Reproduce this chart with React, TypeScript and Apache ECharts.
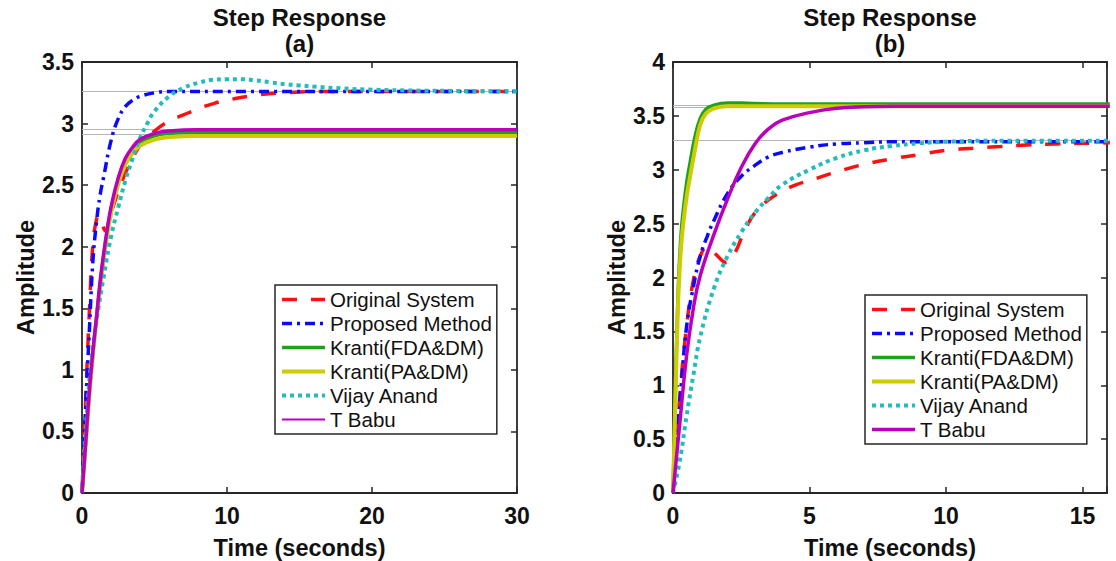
import React, { useEffect, useRef } from "react";
import * as echarts from "echarts";

// ---------- Plot (a) ----------
const tA_orig = [0, 0.25, 0.5, 0.75, 1, 1.15, 1.4, 1.6, 2, 2.5, 3, 3.5, 4, 5, 6, 7, 8, 9, 10, 12, 14, 17, 20, 30];
const yA_orig = [0, 0.75, 1.45, 2.02, 2.22, 2.25, 2.18, 2.13, 2.27, 2.45, 2.6, 2.72, 2.82, 2.94, 3.02, 3.07, 3.12, 3.16, 3.19, 3.23, 3.25, 3.26, 3.26, 3.26];
const tA_prop = [0, 0.25, 0.5, 0.75, 1, 1.25, 1.5, 2, 2.5, 3, 3.5, 4, 5, 6, 8, 30];
const yA_prop = [0, 0.7, 1.3, 1.88, 2.2, 2.42, 2.57, 2.86, 3.04, 3.14, 3.19, 3.22, 3.25, 3.26, 3.26, 3.26];
const tA_fda = [0, 0.25, 0.5, 0.75, 1, 1.5, 2, 2.5, 3, 3.5, 4, 5, 6, 8, 30];
const yA_fda = [0, 0.4, 0.8, 1.13, 1.42, 1.93, 2.3, 2.54, 2.7, 2.79, 2.85, 2.9, 2.92, 2.93, 2.93];
const tA_pa = [0, 0.25, 0.5, 0.75, 1, 1.5, 2, 2.5, 3, 3.5, 4, 5, 6, 8, 30];
const yA_pa = [0, 0.39, 0.79, 1.12, 1.4, 1.9, 2.27, 2.51, 2.67, 2.76, 2.82, 2.87, 2.89, 2.9, 2.9];
const tA_vij = [0, 0.25, 0.5, 0.75, 1, 1.5, 2, 2.5, 3, 3.5, 4, 4.5, 5, 6, 7, 8, 9, 10, 11, 12, 13, 14, 15, 16, 18, 20, 23, 26, 30];
const yA_vij = [0, 0.5, 0.9, 1.17, 1.4, 1.76, 2.08, 2.32, 2.54, 2.72, 2.88, 3.0, 3.1, 3.22, 3.29, 3.33, 3.355, 3.36, 3.36, 3.35, 3.335, 3.32, 3.31, 3.3, 3.285, 3.275, 3.268, 3.265, 3.262];
const tA_babu = [0, 0.25, 0.5, 0.75, 1, 1.25, 1.5, 1.75, 2, 2.5, 3, 3.5, 4, 5, 6, 8, 30];
const yA_babu = [0, 0.4, 0.82, 1.15, 1.43, 1.72, 1.95, 2.15, 2.32, 2.56, 2.72, 2.81, 2.87, 2.92, 2.94, 2.95, 2.95];
const steadyA = [3.26, 2.95, 2.91];

// ---------- Plot (b) ----------
const tB_orig = [0, 0.25, 0.5, 0.75, 1, 1.25, 1.55, 1.95, 2.25, 2.6, 3, 3.5, 4, 4.5, 5, 6, 7, 8, 9, 10, 11, 12, 13, 14, 15, 16];
const yB_orig = [0, 0.9, 1.55, 1.98, 2.2, 2.28, 2.22, 2.14, 2.22, 2.42, 2.6, 2.72, 2.8, 2.86, 2.9, 2.98, 3.05, 3.1, 3.14, 3.18, 3.2, 3.215, 3.23, 3.24, 3.245, 3.25];
const tB_prop = [0, 0.1, 0.2, 0.3, 0.5, 0.75, 1, 1.25, 1.5, 2, 2.5, 3, 3.5, 4, 5, 6, 7, 8, 16];
const yB_prop = [0, 0.35, 0.7, 1.0, 1.55, 1.92, 2.2, 2.38, 2.53, 2.78, 2.94, 3.04, 3.12, 3.16, 3.21, 3.24, 3.25, 3.26, 3.26];
const tB_fda = [0, 0.05, 0.1, 0.15, 0.2, 0.3, 0.4, 0.5, 0.6, 0.8, 1, 1.2, 1.5, 2, 2.5, 3, 4, 16];
const yB_fda = [0, 0.55, 1.1, 1.55, 1.95, 2.42, 2.68, 2.88, 3.03, 3.3, 3.48, 3.56, 3.6, 3.62, 3.62, 3.615, 3.61, 3.61];
const tB_pa = [0, 0.05, 0.1, 0.15, 0.2, 0.3, 0.4, 0.5, 0.6, 0.8, 1, 1.2, 1.5, 2, 2.5, 3, 4, 16];
const yB_pa = [0, 0.5, 1.0, 1.45, 1.85, 2.3, 2.55, 2.75, 2.9, 3.18, 3.42, 3.52, 3.57, 3.59, 3.59, 3.59, 3.59, 3.59];
const tB_vij = [0, 0.25, 0.5, 0.75, 1, 1.5, 2, 2.5, 3, 3.5, 4, 5, 6, 7, 8, 9, 10, 12, 16];
const yB_vij = [0, 0.3, 0.72, 1.1, 1.45, 1.9, 2.2, 2.42, 2.6, 2.74, 2.86, 3.0, 3.11, 3.18, 3.22, 3.245, 3.26, 3.27, 3.27];
const tB_babu = [0, 0.25, 0.5, 0.75, 1, 1.5, 2, 2.5, 3, 3.5, 4, 5, 6, 7, 8, 16];
const yB_babu = [0, 0.65, 1.28, 1.72, 2.02, 2.4, 2.73, 3.02, 3.24, 3.38, 3.46, 3.53, 3.57, 3.585, 3.59, 3.59];
const steadyB = [3.605, 3.585, 3.265];

const names = ["Original System", "Proposed Method", "Kranti(FDA&DM)", "Kranti(PA&DM)", "Vijay Anand", "T Babu"];
const titles = ["Step Response", "(a)", "(b)"];

const zip = (t: number[], y: number[]) => t.map((v, i) => [v, y[i]]);

const FONT = "'Liberation Sans', Arial, sans-serif";
const AX = "#262626";

const styles = [
  { color: "#ff1010", width: 3.5, type: [15, 14] },
  { color: "#0a0aff", width: 3.5, type: [10, 5, 3, 5] },
  { color: "#1fa11f", width: 3.5, type: "solid" },
  { color: "#cccc00", width: 4, type: "solid" },
  { color: "#22bcbc", width: 4, type: [4, 4] },
  { color: "#bb00bb", width: 3.5, type: "solid" },
];

function mkSeries(idx: number, data: number[][][], steady: number[]) {
  return data.map((d, i) => {
    const s: any = {
      name: names[i],
      type: "line",
      xAxisIndex: idx,
      yAxisIndex: idx,
      data: d,
      symbol: "none",
      smooth: 0.45,
      z: 2 + i,
      lineStyle: { color: styles[i].color, width: styles[i].width, type: styles[i].type, cap: "butt" },
      itemStyle: { color: styles[i].color },
    };
    if (i === 0) {
      s.markLine = {
        silent: true,
        symbol: "none",
        label: { show: false },
        lineStyle: { color: "#b5b5b5", width: 1, type: "solid" },
        data: steady.map((v) => ({ yAxis: v })),
        z: 1,
      };
    }
    return s;
  });
}

function axisBase(extra: any) {
  return {
    type: "value",
    axisLine: { show: true, onZero: false, lineStyle: { color: AX, width: 1.8 } },
    axisTick: { show: true, inside: true, length: 6, lineStyle: { color: AX, width: 1.5 } },
    splitLine: { show: false },
    nameTextStyle: { color: "#111", fontFamily: FONT, fontWeight: "bold", fontSize: 23.5 },
    ...extra,
  };
}

function legendFor(left: number, top: number, babuWidth: number) {
  return {
    left,
    top,
    orient: "vertical",
    selectedMode: false,
    itemWidth: 43,
    itemHeight: 12,
    itemGap: 3,
    padding: [4, 5, 4, 5],
    backgroundColor: "#fff",
    borderColor: AX,
    borderWidth: 1.5,
    borderRadius: 0,
    itemStyle: { opacity: 0 },
    textStyle: { fontFamily: FONT, fontSize: 20.5, color: "#111", lineHeight: 20 },
    data: names.map((n, i) => ({
      name: n,
      lineStyle: {
        width: i === 5 ? babuWidth : styles[i].width,
        color: styles[i].color,
        type: styles[i].type,
        cap: "butt",
      },
    })),
  };
}

export default function App() {
  const ref = useRef<HTMLDivElement>(null);
  useEffect(() => {
    if (!ref.current) return;
    const chart = echarts.init(ref.current, undefined, { renderer: "svg" });
    const dataA = [zip(tA_orig, yA_orig), zip(tA_prop, yA_prop), zip(tA_fda, yA_fda), zip(tA_pa, yA_pa), zip(tA_vij, yA_vij), zip(tA_babu, yA_babu)];
    const dataB = [zip(tB_orig, yB_orig), zip(tB_prop, yB_prop), zip(tB_fda, yB_fda), zip(tB_pa, yB_pa), zip(tB_vij, yB_vij), zip(tB_babu, yB_babu)];
    const hidden = { show: false };
    const lbl = (extra: any) => ({ color: "#111", fontFamily: FONT, fontWeight: "bold", fontSize: 23, ...extra });
    const tfont = `bold 24px ${FONT}`;
    const option: any = {
      animation: false,
      backgroundColor: "#fff",
      grid: [
        { left: 82, top: 62, width: 435, height: 431, outerBoundsMode: "none", containLabel: false },
        { left: 673, top: 62, width: 434, height: 431, outerBoundsMode: "none", containLabel: false },
      ],
      xAxis: [
        axisBase({ gridIndex: 0, min: 0, max: 30, interval: 10, name: "Time (seconds)", nameLocation: "middle", nameGap: 43, axisLabel: lbl({ margin: 11 }) }),
        axisBase({ gridIndex: 1, min: 0, max: 15.9, interval: 5, name: "Time (seconds)", nameLocation: "middle", nameGap: 43, axisLabel: lbl({ margin: 11, formatter: (v: number) => (v % 5 === 0 ? String(v) : "") }) }),
        axisBase({ gridIndex: 0, min: 0, max: 30, interval: 10, position: "top", axisLabel: hidden }),
        axisBase({ gridIndex: 1, min: 0, max: 15.9, interval: 5, position: "top", axisLabel: hidden }),
      ],
      yAxis: [
        axisBase({ gridIndex: 0, min: 0, max: 3.5, interval: 0.5, name: "Amplitude", nameLocation: "middle", nameGap: 44, axisLabel: lbl({ margin: 8 }) }),
        axisBase({ gridIndex: 1, min: 0, max: 4, interval: 0.5, name: "Amplitude", nameLocation: "middle", nameGap: 40, axisLabel: lbl({ margin: 8 }) }),
        axisBase({ gridIndex: 0, min: 0, max: 3.5, interval: 0.5, position: "right", axisLabel: hidden }),
        axisBase({ gridIndex: 1, min: 0, max: 4, interval: 0.5, position: "right", axisLabel: hidden }),
      ],
      legend: [legendFor(275, 285, 2), legendFor(865, 295, 3.5)],
      series: [...mkSeries(0, dataA, steadyA), ...mkSeries(1, dataB, steadyB)],
      graphic: [
        { type: "text", x: 299.5, y: 17, style: { text: titles[0], font: tfont, fill: "#111", textAlign: "center", textVerticalAlign: "middle" } },
        { type: "text", x: 299.5, y: 43, style: { text: titles[1], font: tfont, fill: "#111", textAlign: "center", textVerticalAlign: "middle" } },
        { type: "text", x: 890, y: 17, style: { text: titles[0], font: tfont, fill: "#111", textAlign: "center", textVerticalAlign: "middle" } },
        { type: "text", x: 890, y: 43, style: { text: titles[2], font: tfont, fill: "#111", textAlign: "center", textVerticalAlign: "middle" } },
      ],
    };
    chart.setOption(option);
    return () => chart.dispose();
  }, []);
  return <div ref={ref} style={{ width: 1116, height: 561, position: "absolute", left: 0, top: 0 }} />;
}
